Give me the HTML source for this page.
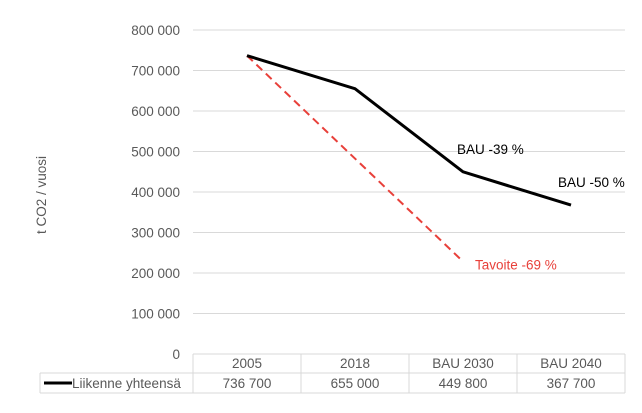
<!DOCTYPE html>
<html><head><meta charset="utf-8"><style>
body{margin:0;background:#fff;width:642px;height:408px;overflow:hidden;font-family:"Liberation Sans",sans-serif}
</style></head><body>
<svg width="642" height="408" xmlns="http://www.w3.org/2000/svg" font-family="Liberation Sans, sans-serif">
<g id="grid"></g>
<g id="ylab" font-size="13.5" fill="#595959" text-anchor="end"></g>
<text transform="translate(46,195) rotate(-90)" text-anchor="middle" font-size="13.5" fill="#595959">t CO2 / vuosi</text>
<g id="table"></g>
<g id="series"></g>
</svg>
<script>
const categories=["2005","2018","BAU 2030","BAU 2040"];
const values=[736700,655000,449800,367700];
const valueLabels=["736 700","655 000","449 800","367 700"];
const targetValues=[736700,228400];
const yTicks=[0,100000,200000,300000,400000,500000,600000,700000,800000];
const yTickLabels=["0","100 000","200 000","300 000","400 000","500 000","600 000","700 000","800 000"];
const annotations=[{i:2,text:"BAU -39 %",dx:-6},{i:3,text:"BAU -50 %",dx:-13}];
const NS="http://www.w3.org/2000/svg";
const x0=193,x1=625,yBase=354,yTop=30,yMax=800000;
const bw=(x1-x0)/categories.length;
const X=i=>x0+bw*(i+0.5);
const Y=v=>yBase-(v/yMax)*(yBase-yTop);
function mk(tag,attrs,parent,txt){const e=document.createElementNS(NS,tag);for(const k in attrs)e.setAttribute(k,attrs[k]);if(txt!==undefined)e.textContent=txt;parent.appendChild(e);return e;}
const grid=document.getElementById('grid'),ylab=document.getElementById('ylab'),tb=document.getElementById('table'),ser=document.getElementById('series');
yTicks.forEach((t,k)=>{
 if(t>0){const l=mk('line',{x1:x0,x2:x1,y1:Y(t),y2:Y(t),stroke:'#d9d9d9','stroke-width':1},grid);
 
 }
 const tx=mk('text',{x:180,y:Y(t)+5},ylab,yTickLabels[k]);
 
 
});
const r0=354,r1=373,r2=393,lx=40;
[[x0,r0,x1,r0],[lx,r1,x1,r1],[lx,r2,x1,r2],[lx,r1,lx,r2],[x1,r0,x1,r2]].forEach(a=>mk('line',{x1:a[0],y1:a[1],x2:a[2],y2:a[3],stroke:'#d9d9d9'},tb));
categories.forEach((c,i)=>{
 mk('line',{x1:x0+bw*i,x2:x0+bw*i,y1:r0,y2:r2,stroke:'#d9d9d9'},tb);
 const h=mk('text',{x:X(i),y:r0+14,'text-anchor':'middle','font-size':13.5,fill:'#595959'},tb,c);
 
 
 const v=mk('text',{x:X(i),y:r1+15,'text-anchor':'middle','font-size':13.5,fill:'#595959'},tb,valueLabels[i]);
 
 
});
const lk=mk('line',{x1:44,x2:72,y1:(r1+r2)/2,y2:(r1+r2)/2,stroke:'#000','stroke-width':3},tb);


const lt=mk('text',{x:72,y:r1+15,'font-size':13.5,fill:'#595959'},tb,'Liikenne yhteensä');


const tp=mk('polyline',{points:targetValues.map((v,i)=>X(i*2)+','+Y(v)).join(' '),fill:'none',stroke:'#e8403a','stroke-width':2,'stroke-dasharray':'8,5'},ser);


const ln=mk('polyline',{points:values.map((v,i)=>X(i)+','+Y(v)).join(' '),fill:'none',stroke:'#000','stroke-width':3},ser);


annotations.forEach(a=>{
 const t=mk('text',{x:X(a.i)+a.dx,y:Y(values[a.i])-18,'font-size':13.5,fill:'#000'},ser,a.text);
 
 
});
const ta=mk('text',{x:X(2)+12,y:Y(targetValues[1])+8,'font-size':13.5,fill:'#e8403a'},ser,'Tavoite -69 %');


</script>
</body></html>
